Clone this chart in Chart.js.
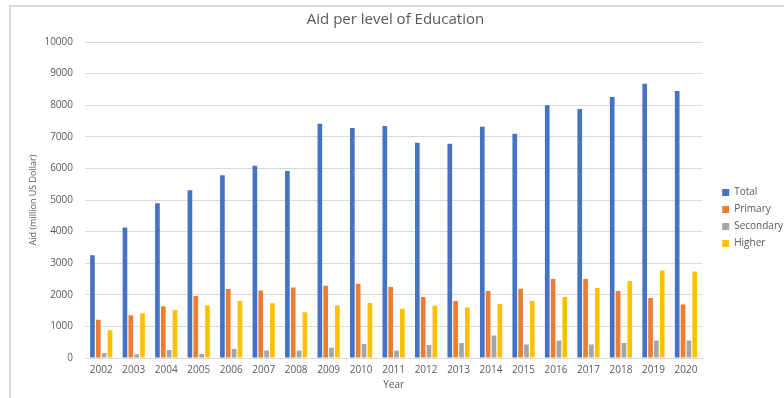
<!DOCTYPE html>
<html>
<head>
<meta charset="utf-8">
<script src="https://cdn.jsdelivr.net/npm/chart.js@4/dist/chart.umd.min.js"></script>
<style>
  html, body { margin: 0; padding: 0; background: #fff; overflow: hidden; }
  #frame {
    position: absolute; left: 9px; top: 5px;
    width: 782px; height: 400px;
    border-top: 2px solid #dadada; border-left: 2px solid #dadada;
  }
</style>
</head>
<body>
<div id="frame"><canvas id="chart" width="782" height="400"></canvas></div>
<script>
const years = ['2002', '2003', '2004', '2005', '2006', '2007', '2008', '2009', '2010', '2011',
               '2012', '2013', '2014', '2015', '2016', '2017', '2018', '2019', '2020'];
const total = [3250, 4130, 4900, 5310, 5780, 6080, 5920, 7410, 7280, 7340,
               6810, 6780, 7320, 7100, 8000, 7880, 8260, 8680, 8450];
const primary = [1210, 1350, 1640, 1960, 2180, 2140, 2230, 2290, 2350, 2250,
                 1930, 1800, 2120, 2190, 2500, 2500, 2120, 1900, 1690];
const secondary = [160, 115, 250, 130, 285, 240, 240, 325, 440, 240,
                   410, 475, 715, 430, 555, 430, 475, 555, 555];
const higher = [875, 1420, 1520, 1665, 1800, 1730, 1445, 1665, 1740, 1560,
                1655, 1600, 1710, 1800, 1930, 2215, 2440, 2770, 2740];

const textColor = '#595959';
const gridColor = '#d9d9d9';
Chart.defaults.font.family = "'Open Sans', sans-serif";
Chart.defaults.color = textColor;

// nudge the legend a bit right/down like the Excel layout
const legendShift = {
    id: 'legendShift',
    afterLayout(chart) {
        const lg = chart.legend;
        lg.left += 13; lg.right += 13;
        lg.top += 11; lg.bottom += 11;
    }
};

const ctx = document.getElementById('chart').getContext('2d');
new Chart(ctx, {
    type: 'bar',
    data: {
        labels: years,
        datasets: [
            { label: 'Total', data: total, backgroundColor: '#4472c4' },
            { label: 'Primary', data: primary, backgroundColor: '#ed7d31' },
            { label: 'Secondary', data: secondary, backgroundColor: '#a5a5a5' },
            { label: 'Higher', data: higher, backgroundColor: '#ffc000' }
        ]
    },
    options: {
        responsive: false,
        animation: false,
        layout: { padding: { left: 0, right: 13, top: 0, bottom: 0 } },
        datasets: {
            bar: { barPercentage: 0.8, categoryPercentage: 0.72 }
        },
        scales: {
            x: {
                grid: { display: false, drawTicks: false },
                border: { color: gridColor },
                ticks: { padding: 6, font: { size: 10 }, maxRotation: 0, autoSkip: false },
                title: { display: true, text: 'Year', font: { size: 10 }, padding: { top: 0, bottom: 16 } },
                afterFit: (scale) => { scale.height = 49; }
            },
            y: {
                min: 0,
                max: 10000,
                grid: { color: gridColor, drawTicks: false },
                border: { display: false },
                ticks: { stepSize: 1000, padding: 12, font: { size: 10 }, callback: (v) => String(v) },
                title: { display: true, text: 'Aid (million US Dollar)', font: { size: 9 }, padding: { top: 17, bottom: 0 } },
                afterFit: (scale) => { scale.width = 74; }
            }
        },
        plugins: {
            title: {
                display: true,
                text: 'Aid per level of Education',
                font: { size: 15, weight: 'normal' },
                color: textColor,
                padding: { top: 4, bottom: 13 }
            },
            legend: {
                position: 'right',
                labels: { boxWidth: 7, boxHeight: 7, padding: 7, font: { size: 10 } }
            },
            tooltip: { enabled: false }
        }
    },
    plugins: [legendShift]
});
</script>
</body>
</html>
